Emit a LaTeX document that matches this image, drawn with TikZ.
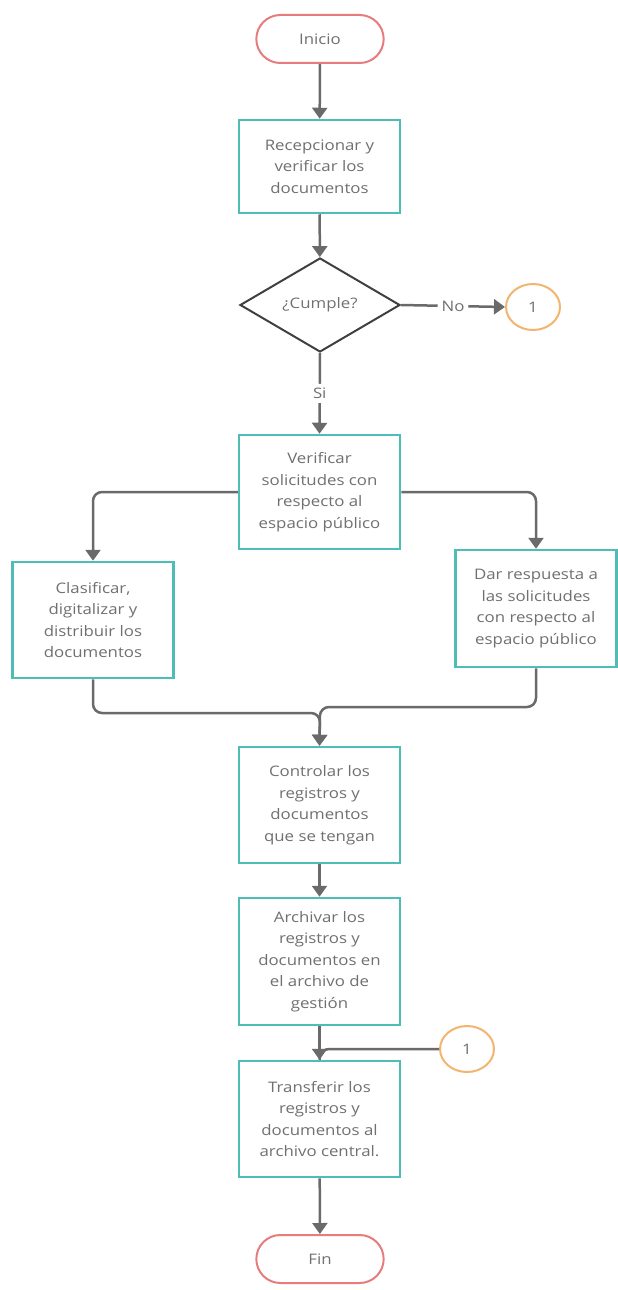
\documentclass[tikz,border=0pt]{standalone}
\usepackage{fontspec}
\setmainfont[FakeStretch=1.16]{Open Sans}
\usetikzlibrary{arrows.meta,shapes.geometric,shapes.misc}
\definecolor{teal}{HTML}{4DBDB5}
\definecolor{redb}{HTML}{E77C7C}
\definecolor{orangeb}{HTML}{F2B46E}
\definecolor{linec}{HTML}{6A6A6A}
\definecolor{txt}{HTML}{707070}
\tikzset{
  every node/.style={font=\fontsize{14.5}{21.5}\selectfont, text=txt},
  procbox/.style={draw=teal, line width=2.5pt, fill=white, minimum width=161pt, align=center, inner sep=0pt},
  term/.style={draw=redb, line width=2pt, rounded rectangle, minimum width=134pt, minimum height=48pt, fill=white},
  conn/.style={draw=orangeb, line width=2pt, ellipse, minimum width=54pt, minimum height=46pt, inner sep=0pt, fill=white},
  dec/.style={draw=black!75, line width=2pt, diamond, minimum width=160pt, minimum height=94pt, inner sep=0pt, aspect=1.7},
  flow/.style={draw=linec, line width=2.5pt, -{Triangle[width=15pt,length=11pt]}, rounded corners=9pt},
  plain/.style={draw=linec, line width=2.5pt, rounded corners=9pt},
  lbl/.style={fill=white, inner sep=4pt}
}
\begin{document}
\begin{tikzpicture}[x=1pt,y=-1pt]
\useasboundingbox (0,0) rectangle (618,1290);
\node[term] (ini) at (320,39) {Inicio};
\node[procbox, minimum height=93pt] (b1) at (319.5,166.5) {Recepcionar y\\verificar los\\documentos};
\node[dec] (d) at (320,305) {¿Cumple?};
\node[conn] (c1) at (533,307) {1};
\node[procbox, minimum height=114pt] (b3) at (319.5,492) {Verificar\\solicitudes con\\respecto al\\espacio público};
\node[procbox, minimum height=116pt] (b4) at (93,620) {Clasificar,\\digitalizar y\\distribuir los\\documentos};
\node[procbox, minimum height=117pt] (b5) at (536,608.5) {Dar respuesta a\\las solicitudes\\con respecto al\\espacio público};
\node[procbox, minimum height=116pt] (b6) at (319.5,805) {Controlar los\\registros y\\documentos\\que se tengan};
\node[procbox, minimum height=127pt] (b7) at (319.5,961.5) {Archivar los\\registros y\\documentos en\\el archivo de\\gestión};
\node[procbox, minimum height=116pt] (b8) at (319.5,1119) {Transferir los\\registros y\\documentos al\\archivo central.};
\node[conn] (c2) at (467,1049) {1};
\node[term] (fin) at (320,1259) {Fin};

\draw[flow] (ini) -- (b1);
\draw[flow] (b1) -- (d);
\draw[flow] (d.east) -- node[lbl] {No} (c1.west);
\draw[flow] (d.south) -- node[lbl, pos=0.5] {Si} (b3.north);
\draw[flow] (b3.west) -| (b4.north);
\draw[flow] (b3.east) -| (b5.north);
\coordinate (mL) at (320,713);
\coordinate (mR) at (320,707);
\draw[flow] (b4.south) |- (mL) -- (b6.north);
\draw[flow] (b5.south) |- (mR) -- (b6.north);
\draw[flow] (b6) -- (b7);
\draw[flow] (b7) -- (b8);
\coordinate (j) at (320,1049);
\draw[plain] (c2.west) -- (j) -- (b8.north);
\draw[flow] (b8) -- (fin);
\end{tikzpicture}
\end{document}
